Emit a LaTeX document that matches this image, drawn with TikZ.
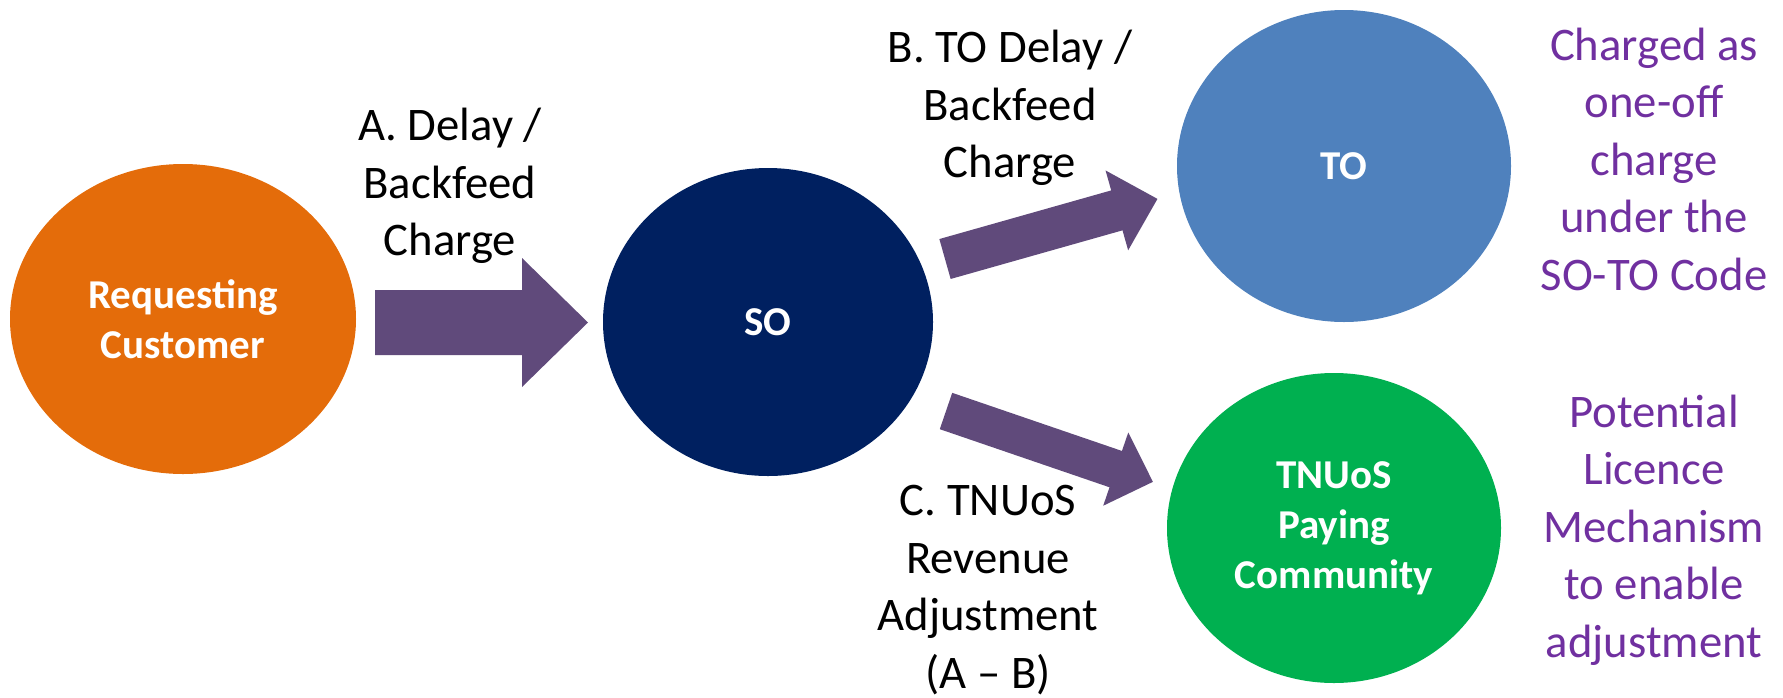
\documentclass[tikz,border=0pt]{standalone}
\usepackage{fontspec}
\setmainfont{Carlito}
\usetikzlibrary{shapes.geometric}
\definecolor{custorange}{RGB}{228,108,10}
\definecolor{sonavy}{RGB}{0,32,96}
\definecolor{toblue}{RGB}{79,129,189}
\definecolor{tnuosgreen}{RGB}{0,176,80}
\definecolor{arrowpurple}{RGB}{96,74,123}
\definecolor{notepurple}{RGB}{112,48,160}
\begin{document}
\begin{tikzpicture}[x=1pt,y=-1pt,
  party/.style={ellipse, inner sep=0pt, outer sep=0pt, text=white, align=center,
    font=\fontsize{41}{50}\selectfont\bfseries},
  flowlabel/.style={align=center, inner sep=0pt, font=\fontsize{46.7}{57.5}\selectfont},
  note/.style={flowlabel, text=notepurple},
  blockarrow/.style={fill=arrowpurple}]
\useasboundingbox (0,0) rectangle (1783,697);

% parties
\node[party, fill=custorange, minimum width=346pt, minimum height=310pt] (cust) at (183,319) {Requesting\\Customer};
\node[party, fill=sonavy, minimum width=330pt, minimum height=308pt] (so) at (768,322) {SO};
\node[party, fill=toblue, minimum width=334pt, minimum height=312pt] (to) at (1344,166) {TO};
\node[party, fill=tnuosgreen, minimum width=334pt, minimum height=310pt] (tnuos) at (1334,528) {TNUoS\\Paying\\Community};

% block arrows
\fill[blockarrow] (375,290) -- (522,290) -- (522,258) -- (588,322.5) -- (522,387) -- (522,355) -- (375,355) -- cycle;
\begin{scope}[shift={(945,259)}, rotate=15.8]
  \fill[blockarrow] (0,-20.75) -- (178.6,-20.75) -- (178.6,-41.5) -- (220.8,0) -- (178.6,41.5) -- (178.6,20.75) -- (0,20.75) -- cycle;
\end{scope}
\begin{scope}[shift={(946,411)}, rotate=-18.9]
  \fill[blockarrow] (0,-19.2) -- (179.4,-19.2) -- (179.4,-38.7) -- (218.7,0) -- (179.4,38.7) -- (179.4,19.2) -- (0,19.2) -- cycle;
\end{scope}

% labels
\node[flowlabel] (lblA) at (450,186) {A. Delay /\\Backfeed\\Charge};
\node[flowlabel] (lblB) at (1010,108) {B. TO Delay /\\Backfeed\\Charge};
\node[flowlabel] (lblC) at (988,590) {C. TNUoS\\Revenue\\Adjustment\\(A -- B)};

% notes
\node[note] (noteTO) at (1654,159) {Charged as\\one-off\\charge\\under the\\SO-TO Code};
\node[note] (noteTN) at (1654,530) {Potential\\Licence\\Mechanism\\to enable\\adjustment};
\end{tikzpicture}
\end{document}
